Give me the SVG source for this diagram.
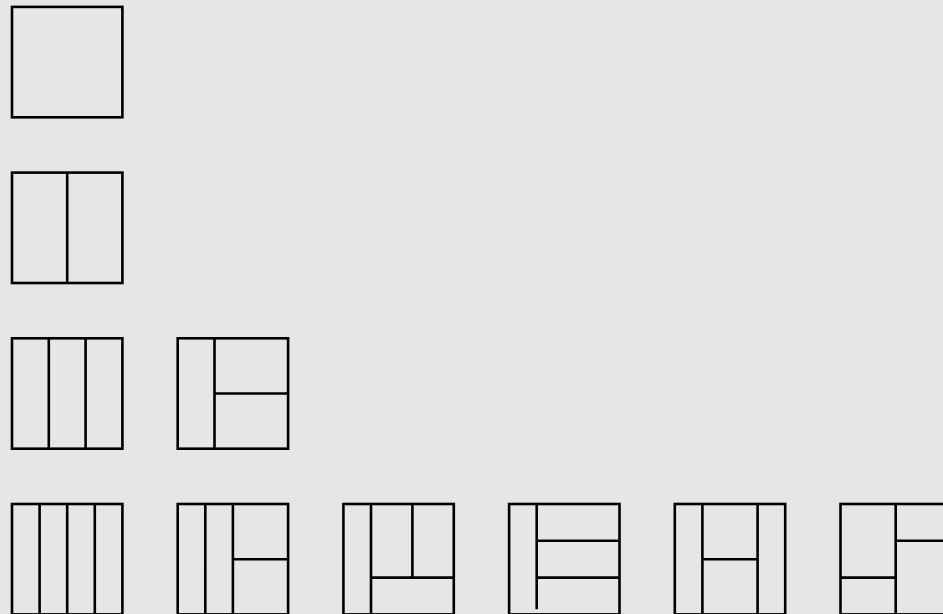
<svg xmlns="http://www.w3.org/2000/svg" width="943" height="614" viewBox="0 0 943 614">
<style>
.f{fill:none;stroke:#000;stroke-width:2.6;stroke-linecap:butt}
</style>
<rect x="0" y="0" width="943" height="614" fill="#e6e6e6"/>
<g id="fig-1" class="f" transform="translate(12,6.9)">
<rect width="110.4" height="110.4"/>
</g>
<g id="fig-2" class="f" transform="translate(12,172.6)">
<rect width="110.4" height="110.4"/>
<path d="M55.2 0V110.4"/>
</g>
<g id="fig-3a" class="f" transform="translate(12,338.3)">
<rect width="110.4" height="110.4"/>
<path d="M36.8 0V110.4M73.6 0V110.4"/>
</g>
<g id="fig-3b" class="f" transform="translate(177.7,338.3)">
<rect width="110.4" height="110.4"/>
<path d="M36.8 0V110.4M36.8 55.2H110.4"/>
</g>
<g id="fig-4a" class="f" transform="translate(12,504)">
<rect width="110.4" height="110.4"/>
<path d="M27.6 0V110.4M55.2 0V110.4M82.8 0V110.4"/>
</g>
<g id="fig-4b" class="f" transform="translate(177.7,504)">
<rect width="110.4" height="110.4"/>
<path d="M27.6 0V110.4M55.2 0V110.4M55.2 55.2H110.4"/>
</g>
<g id="fig-4c" class="f" transform="translate(343.4,504)">
<rect width="110.4" height="110.4"/>
<path d="M27.6 0V110.4M27.6 73.6H110.4M69 0V73.6"/>
</g>
<g id="fig-4d" class="f" transform="translate(509.1,504)">
<rect width="110.4" height="110.4"/>
<path d="M27.6 0V105.3M27.6 36.8H110.4M27.6 73.6H110.4"/>
</g>
<g id="fig-4e" class="f" transform="translate(674.8,504)">
<rect width="110.4" height="110.4"/>
<path d="M27.6 0V110.4M82.8 0V110.4M27.6 55.2H82.8"/>
</g>
<g id="fig-4f" class="f" transform="translate(840.5,504)">
<rect width="110.4" height="110.4"/>
<path d="M55.2 0V110.4M0 73.6H55.2M55.2 36.8H110.4"/>
</g>
</svg>
